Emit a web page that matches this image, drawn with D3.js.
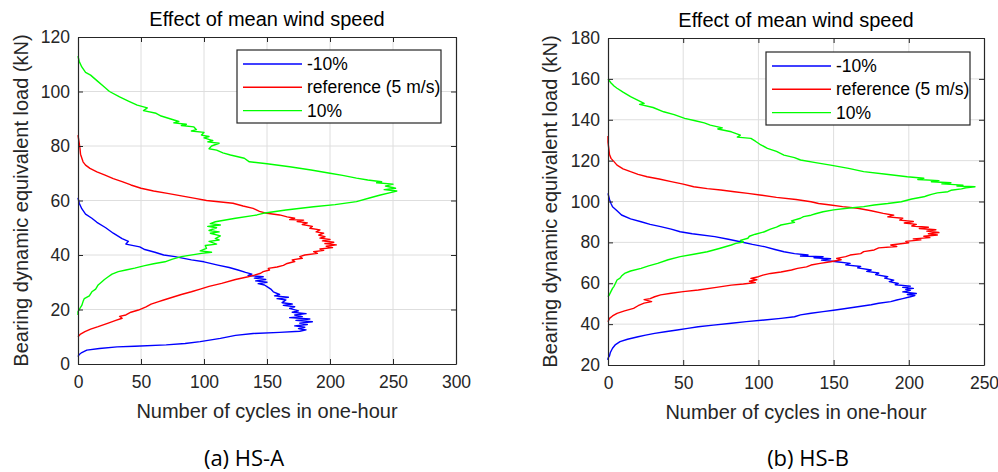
<!DOCTYPE html>
<html lang="en">
<head>
<meta charset="UTF-8">
<title>Effect of mean wind speed</title>
<style>
  html, body { margin: 0; padding: 0; background: #fff; }
  svg { font-family: "Liberation Sans", Arial, sans-serif; }
  .tick text { fill: #262626; }
</style>
</head>
<body>
<div id="chart"></div>
<script src="https://d3js.org/d3.v7.min.js"></script>
<script>
// series labels
const seriesNames = ['-10%', 'reference (5 m/s)', '10%'];
const seriesColors = ['#0000ff', '#ff0000', '#00ff00'];

// HS-A : [load (kN), cycles]
const hsA_minus10 = [[61,0],[59,1],[57,3],[55,6],[53.5,11],[52,15],[50,22],[48,28],[46,35],[45,40],[44,38],[43,49],[42,53],[41,61],[40,68],[39.4,77],[38.2,90],[37.5,100],[36.3,111],[35.4,120],[34.5,127],[33.6,133],[33,138],[32.5,135],[32,147],[31.5,140],[31,149],[30.5,141],[30,150],[29.5,143],[29,148],[28.4,150],[27.5,153],[26.5,155],[25.5,160],[25,156],[24.5,167],[24,158],[23.5,165],[22.5,162],[22,170],[21.5,163],[21,172],[20.4,168],[19.5,175],[19,170],[18.5,181],[18,172],[17.4,178],[17,168],[16.5,184],[16,173],[15.5,186],[15,176],[14.5,182],[14,172],[13.5,180],[13,175],[12.5,181],[12,176],[11.6,160],[11.2,139],[10.5,125],[9.4,113],[8.2,97],[7.5,85],[7,70],[6.5,45],[6.3,31],[5.7,17],[5.1,7],[4.2,3],[3.5,1],[2.7,0]];
const hsA_reference = [[84,0],[81,1],[79,1.6],[77,2],[74.2,4],[73,6],[71.8,9.5],[70.5,15],[69.4,21],[68,28],[66.9,35],[65.7,42],[64.5,50],[63.5,60],[62.6,71],[61.7,82],[60.8,93],[60,102],[59,123],[58,131],[57.1,139],[56,144],[55.3,150],[54.7,160],[54,166],[53.5,172],[53,168],[52.8,179],[52.3,174],[51.8,182],[51.2,178],[50.5,186],[49.8,184],[49.2,192],[48.5,189],[48,195],[47.3,191],[46.7,196],[46.2,192],[45.7,200],[45.2,194],[44.7,203],[44.2,196],[43.7,205],[43.2,197],[42.7,202],[42.2,192],[41.7,195],[41.2,187],[40.6,190],[40,180],[39.4,176],[38.8,178],[38.2,170],[37.6,172],[36.9,166],[36.2,163],[35.6,158],[35.1,151],[34.5,152],[33.9,147],[33.3,145],[32.6,140],[32,135],[31,125],[29.6,114],[28.5,104],[27.5,97],[26.5,90],[25.5,82],[24.5,75],[23.5,68],[22.9,64],[22,58],[21,54],[19.8,48],[19,42],[18,38],[17.5,33],[16.8,35],[16,30],[15,24],[13.7,16],[12.8,10],[11.9,5.5],[11,2],[10,0]];
const hsA_plus10 = [[113,0],[111,1],[109,3],[107,6],[106,10],[104,15],[102,20],[100,25],[98,33],[96.5,40],[95,47],[94,55],[93,52],[92,62],[91,66],[90,73],[89,80],[88.5,76],[88,86],[87.5,82],[87,92],[86,94],[85.5,90],[85,100],[84,98],[83.5,104],[83,100],[82,107],[81.5,103],[81,112],[80,106],[79,104],[78.5,110],[77.5,115],[76.7,121],[75.5,132],[74.2,136],[73.5,150],[72.4,168],[71.2,185],[70,200],[69.2,210],[68.2,221],[67.5,230],[66.9,241],[66.5,237],[66,250],[65.3,244],[64.5,252],[64,243],[63.5,253],[62.9,248],[62,240],[61,232],[59.6,221],[58.5,204],[57.7,187],[56.5,165],[55.3,147],[54.7,142],[53.5,125],[52.2,109],[51.5,105],[51,113],[50.5,103],[50,110],[49,104],[48.5,112],[48,105],[47,113],[46,109],[45.5,112],[45,104],[44,110],[43.5,101],[42.4,102],[41.5,97],[41,106],[40.6,98],[39.4,82],[38.5,75],[37.5,69],[36.8,60],[36.1,53],[35.2,45],[34.5,38],[33.9,32],[33,27],[32,24],[31,21],[30.2,19],[29,16],[27.5,14],[26.5,11],[25,9],[24,5],[22.9,4],[21.5,3],[20,1],[19.2,0],[18,0]];

// HS-B : [load (kN), cycles]
const hsB_minus10 = [[104,0],[101,1],[99,2],[97.4,3],[95.5,6],[93.4,9],[91.5,15],[90.1,22],[88.8,28],[87.7,35],[86.5,42],[85.2,48],[84.2,56],[82.8,71],[81.5,80],[80.3,88],[79,96],[77.9,104],[76.5,111],[75.4,117],[74.5,124],[73.8,133],[73.3,128],[73,143],[72.5,137],[72,148],[71.3,142],[70.5,152],[69.7,161],[69,158],[68.2,168],[67.5,166],[66.5,175],[65.8,172],[65,180],[64.2,178],[63.2,186],[62.5,184],[61.5,190],[60.8,187],[59.9,193],[59.3,191],[58.6,201],[58,196],[57.5,203],[57,198],[56.5,201],[55.8,196],[55,205],[54.5,199],[54,204],[53.4,201],[52.5,196],[51.8,192],[51,188],[50.2,180],[49.5,175],[48.5,166],[47.5,157],[46.8,150],[46.1,143],[45.3,135],[44.5,128],[43.6,124],[42.8,115],[42,104],[41.2,92],[40.4,82],[39.5,70],[38.7,60],[37.9,53],[37.1,46],[36.3,38],[35.5,31],[34.6,25],[33.8,20],[32.6,13],[31.4,8],[30,5],[28.2,3],[26,1.5],[24.5,1],[23.3,0],[22.5,0]];
const hsB_reference = [[132,0],[129,0],[126,0.5],[123,1],[121.1,2],[119.5,4],[117.8,6],[116,10],[114.6,15],[113.3,20],[112.1,26],[111,34],[109.7,42],[108.5,50],[107.2,57],[106.3,66],[105.6,75],[104.8,84],[104,93],[103.2,101],[102,112],[101,125],[99.9,135],[99,140],[98.3,148],[97.5,156],[96.7,166],[95.5,175],[94.2,183],[93.3,190],[92.5,186],[91.8,196],[90.9,194],[90.2,203],[89.5,197],[88.8,205],[88,202],[87.4,213],[86.8,207],[86.2,218],[85.5,212],[84.8,220],[84.2,213],[83.6,219],[83,210],[82.3,214],[81.7,203],[81.2,208],[80.5,198],[79.8,200],[78.7,188],[78,192],[77.3,180],[76.3,177],[75.5,170],[74.5,168],[73.8,161],[73,158],[72.2,152],[71.5,155],[70.5,148],[69.7,141],[68.9,135],[68,132],[67.3,126],[66.5,122],[65.5,115],[64.8,108],[64,103],[63.2,100],[62.4,95],[61.7,99],[61,94],[60.3,98],[59.6,90],[59.1,82],[58,72],[56.7,60],[55.9,50],[55.1,42],[54.3,35],[53.4,31],[52.5,28],[52,24],[51,29],[50.3,24],[49,20],[47.7,17],[46.5,11],[45.3,6],[44,3],[42.8,1],[41.2,0]];
const hsB_plus10 = [[160,0],[158,2],[156.5,4],[155.4,6],[153.5,10],[151.3,15],[149.5,20],[148,24],[147.5,21],[146,30],[143.9,37],[142.5,44],[140.7,51],[139.5,58],[138.5,64],[137.4,68],[136,76],[135.5,73],[134.1,82],[132.5,88],[131.5,86],[130.9,95],[129.5,98],[128,101],[126,106],[124.5,112],[122.7,117],[121.5,124],[120.3,128],[119,138],[117.8,148],[116.2,160],[114.6,170],[113.3,185],[112.1,199],[111.4,210],[110.8,206],[110.2,220],[109.7,215],[109.2,228],[108.6,222],[108,236],[107.6,232],[107.2,244],[106.7,238],[106.2,235],[105.5,228],[104.8,226],[104.2,219],[103.5,215],[102.8,212],[102.3,210],[101.2,202],[99.9,195],[99,186],[98.3,177],[97.5,170],[96.7,159],[95.9,150],[95,143],[94,138],[93.3,135],[92.6,130],[91.8,128],[90.5,122],[89.8,124],[88.5,115],[87.5,112],[86.5,108],[85.2,104],[84,98],[83,94],[82,93],[81,88],[80.2,90],[79.5,85],[78.7,82],[77,74],[75.4,66],[74.2,57],[73,48],[71.5,40],[69.7,33],[68.5,27],[67.3,22],[66,15],[64.8,11],[63.5,9],[62.5,8],[61.6,6],[60,5],[58.5,4],[57.5,3],[56,2],[54.5,1],[53.4,0]];

// axis ticks
const hsA_xTicks = [0, 50, 100, 150, 200, 250, 300];
const hsA_yTicks = [0, 20, 40, 60, 80, 100, 120];
const hsB_xTicks = [0, 50, 100, 150, 200, 250];
const hsB_yTicks = [20, 40, 60, 80, 100, 120, 140, 160, 180];

const W = 998, H = 472;
const svg = d3.select('#chart').append('svg')
  .attr('width', W).attr('height', H);

const axisColor = '#262626';

function drawPanel(opt) {
  const { left, top, width, height } = opt;
  const x = d3.scaleLinear().domain(d3.extent(opt.xTicks)).range([left, left + width]);
  const y = d3.scaleLinear().domain(d3.extent(opt.yTicks)).range([top + height, top]);
  const g = svg.append('g');

  // grid
  g.append('g').selectAll('line').data(opt.xTicks.slice(1, -1)).enter().append('line')
    .attr('x1', d => x(d)).attr('x2', d => x(d))
    .attr('y1', top).attr('y2', top + height)
    .attr('stroke', '#dedede').attr('stroke-width', 1);
  g.append('g').selectAll('line').data(opt.yTicks.slice(1, -1)).enter().append('line')
    .attr('y1', d => y(d)).attr('y2', d => y(d))
    .attr('x1', left).attr('x2', left + width)
    .attr('stroke', '#dedede').attr('stroke-width', 1);

  // curves
  const line = d3.line().x(d => x(d[1])).y(d => y(d[0]));
  opt.series.forEach((s, i) => {
    g.append('path').datum(s)
      .attr('d', line)
      .attr('fill', 'none')
      .attr('stroke', seriesColors[i])
      .attr('stroke-width', 1.4)
      .attr('stroke-linejoin', 'round');
  });

  // axes
  const xb = g.append('g').attr('transform', `translate(0,${top + height})`)
    .call(d3.axisBottom(x).tickValues(opt.xTicks).tickSizeInner(-5).tickSizeOuter(0).tickPadding(12));
  const yl = g.append('g').attr('transform', `translate(${left},0)`)
    .call(d3.axisLeft(y).tickValues(opt.yTicks).tickSizeInner(-5).tickSizeOuter(0).tickPadding(8));
  const xt = g.append('g').attr('transform', `translate(0,${top})`)
    .call(d3.axisTop(x).tickValues(opt.xTicks).tickSizeInner(-5).tickSizeOuter(0).tickFormat(''));
  const yr = g.append('g').attr('transform', `translate(${left + width},0)`)
    .call(d3.axisRight(y).tickValues(opt.yTicks).tickSizeInner(-5).tickSizeOuter(0).tickFormat(''));
  [xb, yl, xt, yr].forEach(a => {
    a.select('.domain').attr('stroke', axisColor).attr('stroke-width', 1.2);
    a.selectAll('.tick line').attr('stroke', axisColor);
    a.selectAll('.tick text').attr('font-size', 17.5).attr('fill', axisColor)
      .attr('font-family', '"Liberation Sans", Arial, sans-serif');
  });

  // title and labels
  g.append('text')
    .attr('x', left + width / 2).attr('y', top - 11)
    .attr('text-anchor', 'middle').attr('font-size', 20).attr('fill', '#000')
    .text('Effect of mean wind speed');
  g.append('text')
    .attr('x', left + width / 2).attr('y', top + height + 54)
    .attr('text-anchor', 'middle').attr('font-size', 20).attr('fill', '#262626')
    .text('Number of cycles in one-hour');
  g.append('text')
    .attr('transform', `translate(${opt.yLabelX},${top + height / 2}) rotate(-90)`)
    .attr('text-anchor', 'middle').attr('font-size', 20).attr('fill', '#262626')
    .text('Bearing dynamic equivalent load (kN)');
  g.append('text')
    .attr('x', opt.captionX).attr('y', 466)
    .attr('text-anchor', 'middle').attr('font-size', 22).attr('fill', '#000')
    .attr('font-family', '"Open Sans", "Noto Sans", sans-serif')
    .text(opt.caption);

  // legend
  const lg = g.append('g').attr('transform', `translate(${opt.legendX},${opt.legendY})`);
  lg.append('rect').attr('width', 204).attr('height', 73)
    .attr('fill', '#fff').attr('stroke', axisColor).attr('stroke-width', 1.2);
  seriesNames.forEach((name, i) => {
    const ly = 14 + i * 23.3;
    lg.append('line').attr('x1', 6).attr('x2', 65).attr('y1', ly).attr('y2', ly)
      .attr('stroke', seriesColors[i]).attr('stroke-width', 1.4);
    lg.append('text').attr('x', 70).attr('y', ly + 6)
      .attr('font-size', 17.5).attr('fill', '#000').text(name);
  });
}

drawPanel({
  left: 78, top: 37, width: 378, height: 327,
  xTicks: hsA_xTicks, yTicks: hsA_yTicks,
  series: [hsA_minus10, hsA_reference, hsA_plus10],
  yLabelX: 28, caption: '(a) HS-A', captionX: 244,
  legendX: 237, legendY: 50
});

drawPanel({
  left: 608, top: 38, width: 376, height: 327,
  xTicks: hsB_xTicks, yTicks: hsB_yTicks,
  series: [hsB_minus10, hsB_reference, hsB_plus10],
  yLabelX: 557, caption: '(b) HS-B', captionX: 808,
  legendX: 766, legendY: 52
});
</script>
</body>
</html>
